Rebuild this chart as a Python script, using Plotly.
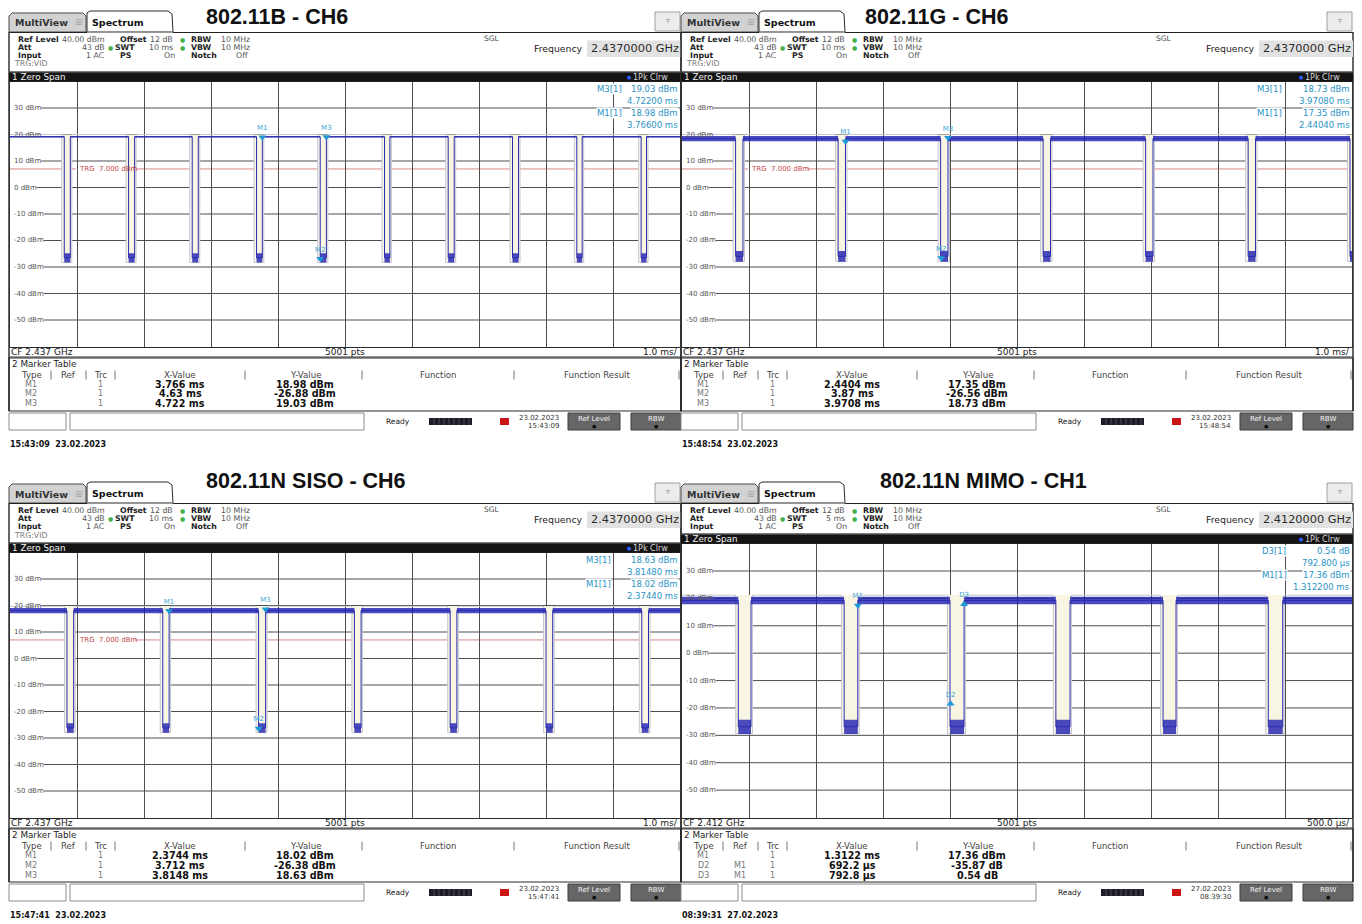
import plotly.graph_objects as go

W, H = 1362, 924
UI = "DejaVu Sans"
TITLE_FONT = "Liberation Sans"

# ---------------- instrument settings per screen ----------------
titles = ["802.11B - CH6", "802.11G - CH6", "802.11N SISO - CH6", "802.11N MIMO - CH1"]
center_freq = ["2.4370000 GHz", "2.4370000 GHz", "2.4370000 GHz", "2.4120000 GHz"]
cf_text = ["CF 2.437 GHz", "CF 2.437 GHz", "CF 2.437 GHz", "CF 2.412 GHz"]
sweep_time = ["10 ms", "10 ms", "10 ms", "5 ms"]
time_per_div = ["1.0 ms/", "1.0 ms/", "1.0 ms/", "500.0 µs/"]
span_ms = [10.0, 10.0, 10.0, 5.0]
sweep_points = [5001, 5001, 5001, 5001]
trigger_dbm = [7.0, 7.0, 7.0, None]
screen_date = ["23.02.2023", "23.02.2023", "23.02.2023", "27.02.2023"]
screen_clock = ["15:43:09", "15:48:54", "15:47:41", "08:39:30"]
saved_stamp = ["15:43:09  23.02.2023", "15:48:54  23.02.2023",
               "15:47:41  23.02.2023", "08:39:31  27.02.2023"]

# level axis (dBm)
ref_level = 40.0
level_ticks = [30, 20, 10, 0, -10, -20, -30, -40, -50]

# ---------------- burst gaps (ms) ----------------
b_gap_start = [0.81, 1.77, 2.72, 3.68, 4.63, 5.59, 6.54, 7.50, 8.46, 9.42]
b_gap_end = [0.90, 1.86, 2.81, 3.766, 4.722, 5.67, 6.63, 7.59, 8.54, 9.50]
g_gap_start = [0.80, 2.33, 3.86, 5.39, 6.92, 8.45, 9.97]
g_gap_end = [0.91, 2.44, 3.97, 5.50, 7.03, 8.56, 10.0]
n_gap_start = [0.85, 2.28, 3.71, 5.14, 6.57, 8.00, 9.43]
n_gap_end = [0.95, 2.375, 3.815, 5.24, 6.67, 8.10, 9.53]
mimo_gap_start = [0.42, 1.21, 2.00, 2.79, 3.59, 4.375]
mimo_gap_end = [0.515, 1.312, 2.105, 2.896, 3.687, 4.483]

# trace envelope while transmitting / between bursts (dBm, low-high)
b_on_band, b_off_band = [18.9, 19.4], [-28.3, -24.8]
g_on_band, g_off_band = [17.5, 19.4], [-28.0, -24.0]
n_on_band, n_off_band = [17.1, 19.1], [-28.0, -24.4]
mimo_on_band, mimo_off_band = [17.9, 20.6], [-29.5, -24.3]

# ---------------- markers ----------------
b_marker_names = ["M1", "M2", "M3"]
b_marker_x = [3.766, 4.63, 4.722]
b_marker_y = [18.98, -26.88, 19.03]
g_marker_names = ["M1", "M2", "M3"]
g_marker_x = [2.4404, 3.87, 3.9708]
g_marker_y = [17.35, -26.56, 18.73]
n_marker_names = ["M1", "M2", "M3"]
n_marker_x = [2.3744, 3.712, 3.8148]
n_marker_y = [18.02, -26.38, 18.63]
# D markers are relative to M1 (time in ms, level in dB)
mimo_marker_names = ["M1", "D2", "D3"]
mimo_marker_ref = ["", "M1", "M1"]
mimo_marker_x = [1.3122, 0.6922, 0.7928]
mimo_marker_y = [17.36, -35.87, 0.54]

gap_start = [b_gap_start, g_gap_start, n_gap_start, mimo_gap_start]
gap_end = [b_gap_end, g_gap_end, n_gap_end, mimo_gap_end]
on_band = [b_on_band, g_on_band, n_on_band, mimo_on_band]
off_band = [b_off_band, g_off_band, n_off_band, mimo_off_band]

# ---------------- screen geometry (pixels) ----------------
DX = [0, 672, 0, 672]
DY = [0, 0, 471, 471]
BAR_TOP = [71.5, 71.5, 542.5, 533.6]
PLOT_BOTTOM = [346.5, 346.5, 817.5, 817.5]
TITLE_X = [205, 864, 205, 879]
TITLE_Y = [17, 17, 481, 481]
BOX_LEFT = [596, 584, 585, 589]

TRACE_BLUE = "#2b2bb0"
BAND_BLUE = "rgba(30,30,178,0.80)"
MARKER_CYAN = "#1e9ad6"
BOX_CYAN = "#2a93c6"

shapes, annotations = [], []


def X(px):
    return px / W


def Y(py):
    return 1 - py / H


def rect(x0, y0, x1, y1, fill=None, line=None, lw=1, layer="above"):
    shapes.append(dict(type="rect", xref="paper", yref="paper",
                       x0=X(x0), x1=X(x1), y0=Y(y1), y1=Y(y0),
                       fillcolor=fill or "rgba(0,0,0,0)",
                       line=dict(color=line or "rgba(0,0,0,0)", width=lw if line else 0),
                       layer=layer))


def seg(x0, y0, x1, y1, color="#000", lw=1, layer="above"):
    shapes.append(dict(type="line", xref="paper", yref="paper",
                       x0=X(x0), x1=X(x1), y0=Y(y0), y1=Y(y1),
                       line=dict(color=color, width=lw), layer=layer))


def poly(pts, fill, line, lw=1):
    d = "M " + " L ".join(f"{X(a):.6f},{Y(b):.6f}" for a, b in pts) + " Z"
    shapes.append(dict(type="path", xref="paper", yref="paper", path=d,
                       fillcolor=fill, line=dict(color=line, width=lw), layer="above"))


def text(x, y, s, size=7, color="#000", anchor="left", bold=False, family=UI, bg=None):
    a = dict(x=X(x), y=Y(y), xref="paper", yref="paper",
             text=f"<b>{s}</b>" if bold else s, showarrow=False,
             xanchor=anchor, yanchor="middle", borderpad=0,
             font=dict(family=family, size=size, color=color))
    if bg:
        a["bgcolor"] = bg
    annotations.append(a)


CHAR_W = {"-": 0.361, " ": 0.318, "d": 0.635, "B": 0.686, "m": 0.974}


def text_width(s, size):
    return sum(CHAR_W.get(c, 0.636) for c in s) * size


def step_path(starts, ends, span, hi, lo):
    xs, ys = [0.0], [hi]
    for s, e in zip(starts, ends):
        s = max(0.0, s)
        xs += [s, s]
        ys += [hi, lo]
        if e < span:
            xs += [e, e]
            ys += [lo, hi]
        else:
            xs.append(span)
            ys.append(lo)
    if ends[-1] < span:
        xs.append(span)
        ys.append(hi)
    return xs, ys


def boxes(x0s, x1s, lo, hi):
    xs, ys = [], []
    for a, b in zip(x0s, x1s):
        xs += [a, b, b, a, a, None]
        ys += [lo, lo, hi, hi, lo, None]
    return xs, ys


fig = go.Figure()
layout_axes = {}

for k in range(4):
    ox, oy = DX[k], DY[k]
    L, R = ox + 9, ox + 681
    left, right = ox + 10, ox + 680
    bar_top = BAR_TOP[k]
    top, bottom = bar_top + 10, PLOT_BOTTOM[k]
    span = span_ms[k]

    # ---------- window title ----------
    text(TITLE_X[k], TITLE_Y[k], titles[k], size=21.5, bold=True, family=TITLE_FONT, color="#111")

    # ---------- tabs ----------
    poly([(L, oy + 32), (L, oy + 16), (L + 3, oy + 13), (ox + 83, oy + 13),
          (ox + 86, oy + 16), (ox + 86, oy + 32)], "#d2d2d2", "#4a4a4a")
    poly([(ox + 87, oy + 32), (ox + 87, oy + 13), (ox + 90, oy + 11), (ox + 168, oy + 11),
          (ox + 172, oy + 14), (ox + 173, oy + 32)], "#ffffff", "#2a2a2a")
    text(ox + 14, oy + 23, "MultiView", size=9.5, bold=True, color="#333")
    text(ox + 74, oy + 22.5, "⊞", size=9, color="#a8a8a8")
    text(ox + 91, oy + 22, "Spectrum", size=9.5, bold=True, color="#111")
    rect(ox + 655, oy + 12, ox + 680, oy + 31, fill="#ececec", line="#a0a0a0")
    text(ox + 667.5, oy + 20, "▿", size=8, color="#888", anchor="center")

    # ---------- outer frame ----------
    seg(L, oy + 32.5, ox + 87, oy + 32.5, "#222", 1.2)
    seg(ox + 173, oy + 32.5, R, oy + 32.5, "#222", 1.2)
    seg(L, oy + 32, L, oy + 411, "#333", 1.5)
    seg(R, oy + 32, R, oy + 411, "#333", 1.5)

    # ---------- setting summary ----------
    r1, r2, r3, r4 = oy + 39.0, oy + 47.3, oy + 55.6, oy + 64.0
    gray = "#555"
    fs = 7.8
    text(ox + 17, r1, "Ref Level", size=fs, bold=True, color="#222")
    text(ox + 61, r1, f"{ref_level:.2f} dBm", size=fs, color=gray)
    text(ox + 119, r1, "Offset", size=fs, bold=True, color="#222")
    text(ox + 174, r1, "12 dB", size=fs, color=gray, anchor="right")
    text(ox + 182, r1, "●", size=6, color="#46b04a", anchor="center")
    text(ox + 190, r1, "RBW", size=fs, bold=True, color="#222")
    text(ox + 220, r1, "10 MHz", size=fs, color=gray)

    text(ox + 17, r2, "Att", size=fs, bold=True, color="#222")
    text(ox + 106, r2, "43 dB", size=fs, color=gray, anchor="right")
    text(ox + 110, r2, "●", size=6, color="#46b04a", anchor="center")
    text(ox + 114, r2, "SWT", size=fs, bold=True, color="#222")
    text(ox + 174, r2, sweep_time[k], size=fs, color=gray, anchor="right")
    text(ox + 182, r2, "●", size=6, color="#46b04a", anchor="center")
    text(ox + 190, r2, "VBW", size=fs, bold=True, color="#222")
    text(ox + 220, r2, "10 MHz", size=fs, color=gray)

    text(ox + 17, r3, "Input", size=fs, bold=True, color="#222")
    text(ox + 106, r3, "1 AC", size=fs, color=gray, anchor="right")
    text(ox + 119, r3, "PS", size=fs, bold=True, color="#222")
    text(ox + 176, r3, "On", size=fs, color=gray, anchor="right")
    text(ox + 190, r3, "Notch", size=fs, bold=True, color="#222")
    text(ox + 249, r3, "Off", size=fs, color=gray, anchor="right")
    if trigger_dbm[k] is not None:
        text(ox + 13, r4, "TRG:VID", size=fs, color="#777")

    text(ox + 483, oy + 38.5, "SGL", size=7.5, color="#444")
    text(ox + 533, oy + 48.5, "Frequency", size=9.3, color="#222")
    rect(ox + 587, oy + 40.5, ox + 681, oy + 57, fill="#e2e2e2")
    text(ox + 590, oy + 48.5, center_freq[k], size=11.3, color="#2a2a2a")

    # ---------- diagram header bar ----------
    rect(L, bar_top, R, bar_top + 10, fill="#141414")
    seg(L, bar_top + 0.5, R, bar_top + 0.5, "#6a6a6a", 1)
    text(ox + 11, bar_top + 5.5, "1 Zero Span", size=8.8, color="#f2f2f2")
    text(ox + 629, bar_top + 5.3, "●", size=5, color="#2f5bff", anchor="center")
    text(ox + 632, bar_top + 5.5, "1Pk Clrw", size=8, color="#d8d8d8")

    # ---------- level grid with inline labels ----------
    def ypx(v):
        return top + (ref_level - v) / 100.0 * (bottom - top)

    for v in level_ticks:
        lab = f"{v} dBm"
        yy = ypx(v)
        text(left + 3, yy, lab, size=7, color="#555")
        seg(left + 4 + text_width(lab, 7), yy, right, yy, "#4e4e4e", 1, layer="below")

    if trigger_dbm[k] is not None:
        yt = ypx(trigger_dbm[k])
        seg(left, yt, left + 66, yt, "#d98a8a", 1, layer="below")
        seg(left + 125, yt, right, yt, "#d98a8a", 1, layer="below")
        text(left + 68, yt, f"TRG  {trigger_dbm[k]:.3f} dBm", size=7, color="#c34a4a")

    # ---------- axes ----------
    xa_name = "xaxis" if k == 0 else f"xaxis{k + 1}"
    ya_name = "yaxis" if k == 0 else f"yaxis{k + 1}"
    xref = "x" if k == 0 else f"x{k + 1}"
    yref = "y" if k == 0 else f"y{k + 1}"
    layout_axes[xa_name] = dict(domain=[X(left), X(right)], range=[0, span], anchor=yref,
                                showgrid=True, gridcolor="#4e4e4e", gridwidth=1,
                                tick0=0, dtick=span / 10, showticklabels=False, ticks="",
                                zeroline=False, showline=True, mirror=True,
                                linecolor="#2a2a2a", linewidth=1)
    layout_axes[ya_name] = dict(domain=[Y(bottom), Y(top)], range=[-60, ref_level], anchor=xref,
                                showgrid=False, showticklabels=False, ticks="",
                                zeroline=False, showline=True, mirror=True,
                                linecolor="#2a2a2a", linewidth=1)

    # ---------- trace ----------
    st, en = gap_start[k], gap_end[k]
    lo_on, hi_on = on_band[k]
    lo_off, hi_off = off_band[k]
    ms_per_px = span / 670.0
    lead, lag = 2.5 * ms_per_px, 1.5 * ms_per_px
    st_g = [s - lead for s in st]
    en_g = [min(e + lag, span) if e < span else span for e in en]

    # pale area and faint companion trace around every gap
    xs, ys = boxes(st_g, en_g, lo_off, hi_on + 0.6)
    fig.add_trace(go.Scatter(x=xs, y=ys, fill="toself", fillcolor="#f8f6e2",
                             line=dict(width=0), mode="lines", hoverinfo="skip",
                             xaxis=xref, yaxis=yref))
    xs, ys = step_path(st_g, en_g, span, hi_on + 0.6, lo_off)
    fig.add_trace(go.Scatter(x=xs, y=ys, mode="lines", line=dict(color="#c6c6d4", width=1),
                             hoverinfo="skip", xaxis=xref, yaxis=yref))

    on_x0 = [0.0] + [e for e in en if e < span]
    on_x1 = list(st) + ([span] if en[-1] < span else [])
    xs, ys = boxes(on_x0, on_x1, lo_on, hi_on)
    fig.add_trace(go.Scatter(x=xs, y=ys, fill="toself", fillcolor=BAND_BLUE,
                             line=dict(width=0), mode="lines",
                             hoverinfo="skip", xaxis=xref, yaxis=yref))
    xs, ys = boxes(st, en, lo_off, hi_off)
    fig.add_trace(go.Scatter(x=xs, y=ys, fill="toself", fillcolor=BAND_BLUE,
                             line=dict(width=0), mode="lines",
                             hoverinfo="skip", xaxis=xref, yaxis=yref))
    xs, ys = step_path(st, en, span, (lo_on + hi_on) / 2, (lo_off + hi_off) / 2)
    fig.add_trace(go.Scatter(x=xs, y=ys, mode="lines", line=dict(color=TRACE_BLUE, width=1),
                             hoverinfo="skip", xaxis=xref, yaxis=yref))

# ---------------- markers, marker boxes and marker tables ----------------
marker_sets = [
    (b_marker_names, ["", "", ""], b_marker_x, b_marker_y),
    (g_marker_names, ["", "", ""], g_marker_x, g_marker_y),
    (n_marker_names, ["", "", ""], n_marker_x, n_marker_y),
    (mimo_marker_names, mimo_marker_ref, mimo_marker_x, mimo_marker_y),
]

for k, (names, refs, mx, my) in enumerate(marker_sets):
    ox, oy = DX[k], DY[k]
    xref = "x" if k == 0 else f"x{k + 1}"
    yref = "y" if k == 0 else f"y{k + 1}"
    top = BAR_TOP[k] + 10

    abs_x, abs_y, syms = [], [], []
    base = dict(zip(names, zip(mx, my)))
    for n, r, x, y in zip(names, refs, mx, my):
        if r:
            abs_x.append(base[r][0] + x)
            abs_y.append(base[r][1] + y)
            syms.append("triangle-up")
        else:
            abs_x.append(x)
            abs_y.append(y)
            syms.append("triangle-down")
    fig.add_trace(go.Scatter(x=abs_x, y=abs_y, mode="markers+text", text=names,
                             textposition="top center",
                             textfont=dict(family=UI, size=7, color="#3aa6d6"),
                             marker=dict(symbol=syms, size=7, color=MARKER_CYAN),
                             hoverinfo="skip", xaxis=xref, yaxis=yref))

    # marker info box (last marker first, then M1)
    order = [len(names) - 1, 0]
    rows_y = [top + 7.5, top + 19.5, top + 31.5, top + 43.5]
    for i, j in enumerate(order):
        n, r, x, y = names[j], refs[j], mx[j], my[j]
        if r:
            level = f"{y:.2f} dB"
            when = f"{x * 1000:.3f} µs"
        else:
            level = f"{y:.2f} dBm"
            when = f"{x:.6f} ms" if span_ms[k] < 10 else f"{x:.5f} ms"
        text(ox + BOX_LEFT[k], rows_y[2 * i], f"{n}[1]", size=8.5, color=BOX_CYAN, bg="#ffffff")
        text(ox + 679, rows_y[2 * i], level, size=8.5, color=BOX_CYAN, anchor="right", bg="#ffffff")
        text(ox + 679, rows_y[2 * i + 1], when, size=8.5, color=BOX_CYAN, anchor="right", bg="#ffffff")

    # footer of the diagram
    bottom = PLOT_BOTTOM[k]
    text(ox + 10, bottom + 5, cf_text[k], size=9, color="#222")
    text(ox + 345, bottom + 5, f"{sweep_points[k]} pts", size=9, color="#222", anchor="center")
    text(ox + 679, bottom + 5, time_per_div[k], size=9, color="#222", anchor="right")
    seg(ox + 9, bottom + 10.5, ox + 681, bottom + 10.5, "#333", 1)

    # marker table
    t0 = oy + 358
    rect(ox + 9, t0, ox + 681, oy + 411, line="#2a2a2a", lw=1.2)
    text(ox + 11, oy + 364, "2 Marker Table", size=8.8, color="#222")
    heads = [(31, "Type"), (68, "Ref"), (100, "Trc"), (180, "X-Value"), (305, "Y-Value"),
             (438, "Function"), (597, "Function Result")]
    for cx, h in heads:
        text(ox + cx, oy + 374.5, h, size=8.6, color="#444", anchor="center")
    for sx in [51, 86, 115, 245, 362, 514, 679]:
        seg(ox + sx, oy + 370.5, ox + sx, oy + 379.5, "#777", 1)
    for i, (n, r, x, y) in enumerate(zip(names, refs, mx, my)):
        ry = oy + 384 + 10 * i
        if r:
            xs_txt = f"{x * 1000:g} µs"
            ys_txt = f"{y:.2f} dB"
        else:
            xs_txt = f"{x:g} ms"
            ys_txt = f"{y:.2f} dBm"
        text(ox + 31, ry, n, size=8, color="#777", anchor="center")
        if r:
            text(ox + 68, ry, r, size=8, color="#777", anchor="center")
        text(ox + 100, ry, "1", size=8, color="#777", anchor="center")
        text(ox + 180, ry, xs_txt, size=9.6, color="#111", anchor="center", bold=True)
        text(ox + 305, ry, ys_txt, size=9.6, color="#111", anchor="center", bold=True)

    # status bar
    rect(ox + 9, oy + 413, ox + 66, oy + 430, fill="#ffffff", line="#8c8c8c")
    rect(ox + 70, oy + 413, ox + 364, oy + 430, fill="#ffffff", line="#8c8c8c")
    text(ox + 385, oy + 421.5, "Ready", size=7.5, color="#222")
    rect(ox + 429, oy + 418, ox + 472, oy + 425, fill="#1d1d28")
    for bx in range(434, 472, 5):
        seg(ox + bx, oy + 418, ox + bx, oy + 425, "#6d6d7a", 0.6)
    rect(ox + 500, oy + 418, ox + 509, oy + 425, fill="#cc1616")
    text(ox + 560, oy + 417.5, screen_date[k], size=7, color="#333", anchor="right")
    text(ox + 560, oy + 425.5, screen_clock[k], size=7, color="#333", anchor="right")
    for bx0, bx1, lab in [(568, 620, "Ref Level"), (631, 681, "RBW")]:
        rect(ox + bx0, oy + 413, ox + bx1, oy + 430, fill="#666666", line="#3c3c3c")
        text(ox + (bx0 + bx1) / 2, oy + 418.5, lab, size=7, color="#f4f4f4", anchor="center")
        text(ox + (bx0 + bx1) / 2, oy + 425.5, "●", size=5, color="#111", anchor="center")

    text(ox + 9, oy + 444.5, saved_stamp[k], size=8, color="#111", bold=True)

fig.update_layout(
    width=W, height=H, margin=dict(l=0, r=0, t=0, b=0),
    paper_bgcolor="#ffffff", plot_bgcolor="rgba(0,0,0,0)",
    showlegend=False, shapes=shapes, annotations=annotations,
    **layout_axes,
)

fig.write_html("out.html")
